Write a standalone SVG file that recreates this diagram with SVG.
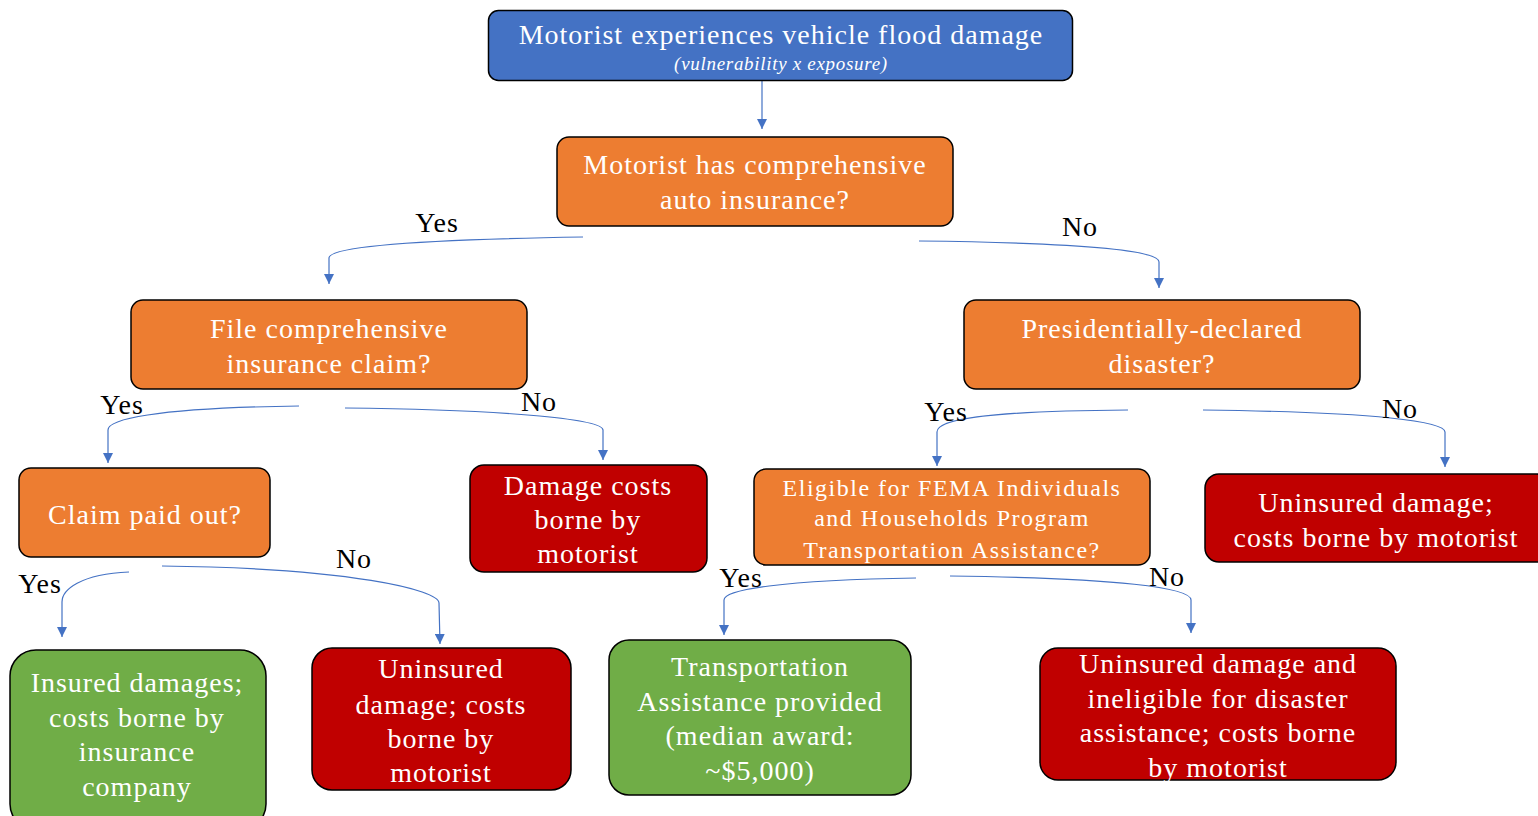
<svg xmlns="http://www.w3.org/2000/svg" width="1538" height="816" viewBox="0 0 1538 816">
<style>
.box{stroke:#000;stroke-width:1.5}
.blue{fill:#4472C4}.orange{fill:#ED7D31}.red{fill:#C00000}.green{fill:#70AD47}
.t{font-family:"Liberation Serif","DejaVu Serif",serif;fill:#fff;text-anchor:middle;font-size:28px;letter-spacing:1px}
.s{font-size:24px;letter-spacing:1.5px}
.lbl{font-family:"Liberation Serif","DejaVu Serif",serif;fill:#000;text-anchor:middle;font-size:28px;letter-spacing:1px}
.c{fill:none;stroke:#4472C4;stroke-width:1.2;marker-end:url(#arr)}
</style>
<defs>
<marker id="arr" viewBox="0 0 10 10" refX="10" refY="5" markerWidth="10" markerHeight="10" markerUnits="userSpaceOnUse" orient="auto">
<path d="M0,0 L10,5 L0,10 Z" fill="#4472C4"/>
</marker>
</defs>
<rect width="1538" height="816" fill="#fff"/>
<g id="connectors">
<path class="c" d="M762,81 L762,129"/>
<path class="c" d="M583,237 C400,240 329,248 329,258 L329,284"/>
<path class="c" d="M919,241 C1100,243 1159,252 1159,262 L1159,288"/>
<path class="c" d="M299,406 C150,408 108,420 108,430 L108,463"/>
<path class="c" d="M345,408 C520,410 603,420 603,430 L603,460"/>
<path class="c" d="M1128,410 C980,411 937,420 937,432 L937,466"/>
<path class="c" d="M1203,410 C1380,412 1445,422 1445,432 L1445,467"/>
<path class="c" d="M129,572 C80,574 62,590 62,602 L62,637"/>
<path class="c" d="M162,566 C350,568 439,590 439,603 L440,644"/>
<path class="c" d="M916,578 C780,580 724,590 724,600 L724,635"/>
<path class="c" d="M950,576 C1120,578 1191,588 1191,600 L1191,633"/>
<text class="lbl" x="437" y="232">Yes</text>
<text class="lbl" x="1080" y="236">No</text>
<text class="lbl" x="122" y="414">Yes</text>
<text class="lbl" x="539" y="411">No</text>
<text class="lbl" x="946" y="421">Yes</text>
<text class="lbl" x="1400" y="418">No</text>
<text class="lbl" x="40" y="593">Yes</text>
<text class="lbl" x="354" y="568">No</text>
<text class="lbl" x="741" y="587">Yes</text>
<text class="lbl" x="1167" y="586">No</text>
</g>
<g id="n1">
<rect class="box blue" x="488.5" y="10.5" width="584" height="70" rx="10"/>
<text class="t" x="781" y="44">Motorist experiences vehicle flood damage</text>
<text class="t" x="781" y="70" style="font-size:19px;font-style:italic;letter-spacing:0.7px">(vulnerability x exposure)</text>
</g>
<g id="n2">
<rect class="box orange" x="557" y="137" width="396" height="89" rx="12"/>
<text class="t" x="755" y="174">Motorist has comprehensive</text>
<text class="t" x="755" y="209">auto insurance?</text>
</g>
<g id="n3">
<rect class="box orange" x="131" y="300" width="396" height="89" rx="12"/>
<text class="t" x="329" y="338">File comprehensive</text>
<text class="t" x="329" y="373">insurance claim?</text>
</g>
<g id="n4">
<rect class="box orange" x="964" y="300" width="396" height="89" rx="12"/>
<text class="t" x="1162" y="338">Presidentially-declared</text>
<text class="t" x="1162" y="373">disaster?</text>
</g>
<g id="n5">
<rect class="box orange" x="19" y="468" width="251" height="89" rx="12"/>
<text class="t" x="145" y="524">Claim paid out?</text>
</g>
<g id="n6">
<rect class="box red" x="470" y="465" width="237" height="107" rx="14"/>
<text class="t" x="588" y="495">Damage costs</text>
<text class="t" x="588" y="529">borne by</text>
<text class="t" x="588" y="563">motorist</text>
</g>
<g id="n7">
<rect class="box orange" x="754" y="469" width="396" height="96" rx="12"/>
<text class="t s" x="952" y="496">Eligible for FEMA Individuals</text>
<text class="t s" x="952" y="526">and Households Program</text>
<text class="t s" x="952" y="558">Transportation Assistance?</text>
</g>
<g id="n8">
<rect class="box red" x="1205" y="474" width="345" height="88" rx="14"/>
<text class="t" x="1376" y="512">Uninsured damage;</text>
<text class="t" x="1376" y="547">costs borne by motorist</text>
</g>
<g id="n9">
<rect class="box green" x="10" y="650" width="256" height="180" rx="26"/>
<text class="t" x="137" y="692">Insured damages;</text>
<text class="t" x="137" y="727">costs borne by</text>
<text class="t" x="137" y="761">insurance</text>
<text class="t" x="137" y="796">company</text>
</g>
<g id="n10">
<rect class="box red" x="312" y="648" width="259" height="142" rx="20"/>
<text class="t" x="441" y="678">Uninsured</text>
<text class="t" x="441" y="714">damage; costs</text>
<text class="t" x="441" y="748">borne by</text>
<text class="t" x="441" y="782">motorist</text>
</g>
<g id="n11">
<rect class="box green" x="609" y="640" width="302" height="155" rx="20"/>
<text class="t" x="760" y="676">Transportation</text>
<text class="t" x="760" y="711">Assistance provided</text>
<text class="t" x="760" y="745">(median award:</text>
<text class="t" x="760" y="780">~$5,000)</text>
</g>
<g id="n12">
<rect class="box red" x="1040" y="648" width="356" height="132" rx="18"/>
<text class="t" x="1218" y="673">Uninsured damage and</text>
<text class="t" x="1218" y="708">ineligible for disaster</text>
<text class="t" x="1218" y="742">assistance; costs borne</text>
<text class="t" x="1218" y="777">by motorist</text>
</g>
</svg>
